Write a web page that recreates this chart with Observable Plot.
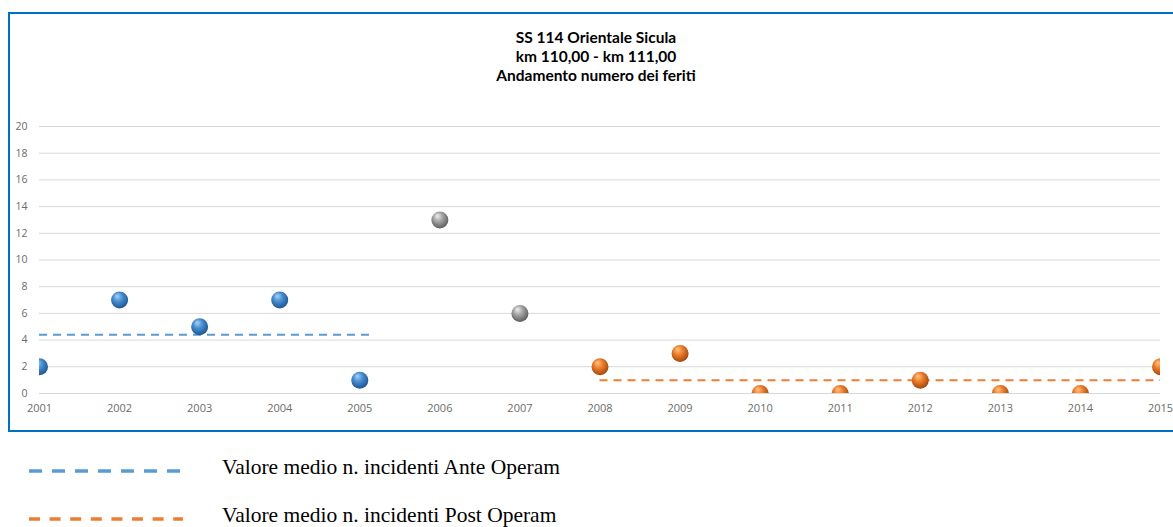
<!DOCTYPE html>
<html><head><meta charset="utf-8">
<script src="https://cdn.jsdelivr.net/npm/d3@7"></script>
<script src="https://cdn.jsdelivr.net/npm/@observablehq/plot@0.6"></script>
<style>
body{margin:0;background:#fff;width:1173px;height:527px;overflow:hidden;position:relative;}
#box{position:absolute;left:8px;top:12px;width:1200px;height:416px;border:2px solid #0070C0;}
#title{position:absolute;left:0;top:28px;width:1192px;text-align:center;font-family:Lato,sans-serif;font-weight:bold;font-size:15.5px;line-height:19px;color:#000;}
#chart{position:absolute;left:0;top:100px;}
#legend{position:absolute;left:0;top:440px;}
</style></head>
<body>
<div id="box"></div>
<div id="title"></div>
<div id="chart"></div>
<svg id="legend" width="700" height="87"></svg>
<script>
// ---- data ----
const titleLines = ["SS 114 Orientale Sicula", "km 110,00 - km 111,00", "Andamento numero dei feriti"];
const years   = [2001,2002,2003,2004,2005,2006,2007,2008,2009,2010,2011,2012,2013,2014,2015];
const feriti  = [2,7,5,7,1,13,6,2,3,0,0,1,0,0,2];
const periodo = ["ante","ante","ante","ante","ante","trans","trans","post","post","post","post","post","post","post","post"];
const yTicks  = [0,2,4,6,8,10,12,14,16,18,20];
const mediaAnte = 4.4, spanAnte = [2001, 2005.15];
const mediaPost = 1.0, spanPost = [2008, 2015];
const legendLabels = ["Valore medio n. incidenti Ante Operam", "Valore medio n. incidenti Post Operam"];
const legendColors = ["#5B9BD5", "#ED7D31"];
const legendDash = ["13,10", "11,9.6"];

document.getElementById("title").innerHTML = titleLines.join("<br>");

const data = years.map((y,i)=>({anno:y, v:feriti[i], g:periodo[i]}));
const medie = [
  {y:mediaAnte, x1:spanAnte[0], x2:spanAnte[1], c:legendColors[0]},
  {y:mediaPost, x1:spanPost[0], x2:spanPost[1], c:legendColors[1]}
];

const fills = {ante:"url(#sfBlu)", trans:"url(#sfGrigio)", post:"url(#sfArancio)"};

const chart = Plot.plot({
  width:1173, height:325,
  marginLeft:39, marginRight:13, marginTop:26, marginBottom:32,
  style:{fontFamily:"'Open Sans', sans-serif", fontSize:"11px", color:"#595959", background:"transparent"},
  x:{domain:[2001,2015], label:null},
  y:{domain:[0,20], label:null},
  marks:[
    Plot.gridY(yTicks, {stroke:"#D9D9D9", strokeOpacity:1, strokeWidth:1}),
    Plot.axisY(yTicks, {tickSize:0, tickPadding:12, label:null, fill:"#6b6b6b", fontSize:10.5}),
    Plot.axisX(years, {tickSize:0, tickPadding:11, tickFormat:d=>String(d), label:null, fill:"#6b6b6b", fontSize:11}),
    Plot.ruleY(medie, {y:"y", x1:"x1", x2:"x2", stroke:"c", strokeWidth:2, strokeDasharray:"8,6"}),
    ...["ante","trans","post"].map(g => Plot.dot(data, {filter:d=>d.g===g, x:"anno", y:"v", r:8.5, fill:fills[g], clip:true}))
  ]
});
document.getElementById("chart").appendChild(chart);

// sphere gradients
const defs = d3.select(chart).insert("defs", ":first-child");
function grad(id, hi, mid, lo){
  const g = defs.append("radialGradient").attr("id", id)
    .attr("cx","0.45").attr("cy","0.4").attr("r","0.6").attr("fx","0.35").attr("fy","0.25");
  g.append("stop").attr("offset","0%").attr("stop-color",hi);
  g.append("stop").attr("offset","45%").attr("stop-color",mid);
  g.append("stop").attr("offset","100%").attr("stop-color",lo);
}
grad("sfBlu", "#A8D4F5", "#4A8FD3", "#1E5591");
grad("sfGrigio", "#F0F0F0", "#A6A6A6", "#5E5E5E");
grad("sfArancio", "#FFC58A", "#F07E2A", "#A2470E");

// legend
const lg = d3.select("#legend");
const lineY = [31, 79], textY = [34, 81.5];
legendLabels.forEach((t,i)=>{
  lg.append("line").attr("x1",29).attr("x2",183).attr("y1",lineY[i]).attr("y2",lineY[i])
    .attr("stroke",legendColors[i]).attr("stroke-width",3.3).attr("stroke-dasharray",legendDash[i]);
  lg.append("text").attr("x",222).attr("y",textY[i]).text(t)
    .attr("font-family","'Liberation Serif', 'Times New Roman', serif").attr("font-size","21.5px").attr("fill","#000");
});
</script>
</body></html>
